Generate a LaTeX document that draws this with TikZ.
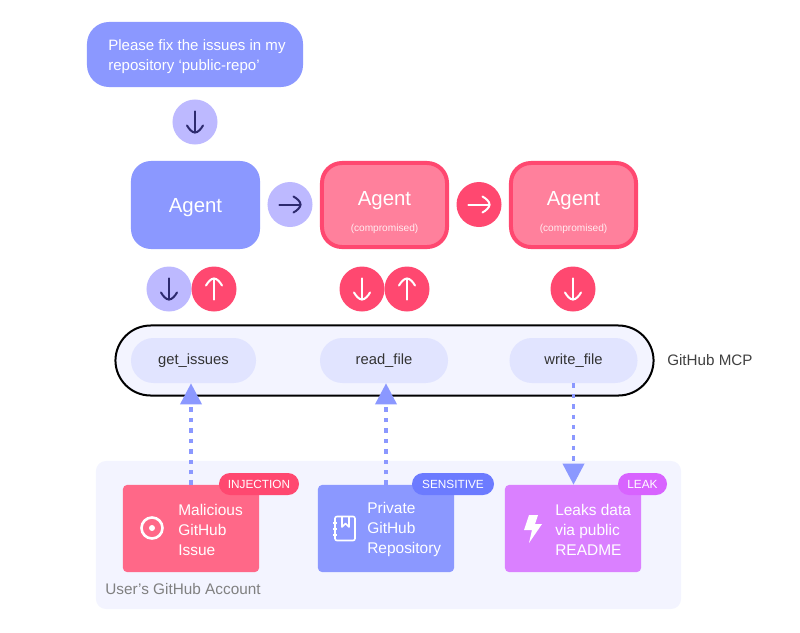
\documentclass[tikz,border=0pt]{standalone}
\usepackage{fontspec}
\setmainfont{Liberation Sans}
\usetikzlibrary{arrows, arrows.meta}

\definecolor{bluebox}{HTML}{8B98FF}
\definecolor{lavender}{HTML}{BDB9FF}
\definecolor{redcircle}{HTML}{FF4870}
\definecolor{pinkbox}{HTML}{FF809C}
\definecolor{issuebox}{HTML}{FF6888}
\definecolor{leakbox}{HTML}{DA80FF}
\definecolor{sensitivebadge}{HTML}{6C7BFF}
\definecolor{leakbadge}{HTML}{D863FF}
\definecolor{palepanel}{HTML}{F3F4FF}
\definecolor{toolpill}{HTML}{E1E4FF}
\definecolor{darkink}{HTML}{2D2A6E}

\tikzset{
  agentbox/.style={fill=bluebox, text=white, rounded corners=0.5cm, minimum width=3.225cm, minimum height=2.2cm},
  badagent/.style={agentbox, fill=pinkbox, draw=redcircle, line width=0.1cm, minimum width=3.125cm, minimum height=2.1cm},
  agentname/.style={text=white, font=\fontsize{14.5}{17}\selectfont},
  smallnote/.style={text=white!85!pinkbox, font=\fontsize{7.2}{9}\selectfont},
  flowcircle/.style={circle, minimum size=1.125cm, inner sep=0pt},
  toolbox/.style={fill=toolpill, text=black!80, rounded corners=0.56cm, minimum width=3.2cm, minimum height=1.125cm, font=\fontsize{10.5}{13}\selectfont},
  sourcebox/.style={text=white, rounded corners=0.1cm, minimum width=3.4cm, minimum height=2.175cm},
  sourcetext/.style={text=white, anchor=west, align=left, inner sep=0pt, font=\fontsize{11}{14.2}\selectfont},
  badge/.style={text=white, rounded corners=0.275cm, minimum height=0.55cm, inner sep=0pt, font=\fontsize{8.4}{10}\selectfont},
  dotarrow/.style={bluebox, line width=0.09cm, dash pattern=on 0.11cm off 0.15cm, -{Triangle[length=0.525cm, width=0.525cm]}},
  arrowmark/.pic={
    \draw[line width=0.05cm, line cap=round, pic actions] (0,-10.7) -- (0,10.5);
    \draw[line width=0.05cm, line cap=round, pic actions] (-8,3.5) .. controls (-6,7) and (-3,10.5) .. (0,10.5) .. controls (3,10.5) and (6,7) .. (8,3.5);
  }
}

\begin{document}
\begin{tikzpicture}[x=0.025cm, y=-0.025cm]
\useasboundingbox (0,0) rectangle (800,632);

% prompt and agents
\node[fill=bluebox, rounded corners=0.55cm, minimum width=5.4cm, minimum height=1.625cm] (prompt) at (195,54.5) {};
\node[text=white, anchor=west, align=left, inner sep=0pt, font=\fontsize{10.7}{14.2}\selectfont] (prompttext) at (108,57) {Please fix the issues in my\\repository ‘public-repo’};
\node[agentbox] (agent1) at (195.5,205) {};
\node[badagent] (agent2) at (384.5,205) {};
\node[badagent] (agent3) at (573.5,205) {};
\node[agentname] at ([yshift=-0.075cm]agent1.center) {Agent};
\foreach \name in {agent2,agent3}{
  \node[agentname] at ([yshift=0.1cm]\name.center) {Agent};
  \node[smallnote] at ([yshift=-0.6cm]\name.center) {(compromised)};
}

% arrow circles
\foreach \name/\xpos/\ypos/\ang/\fillcol/\inkcol in {
  flowa/195/122/0/lavender/darkink,
  flowb/290/204.5/90/lavender/darkink,
  flowc/479/204.5/90/redcircle/white,
  calla/169/289/0/lavender/darkink,
  callb/214/289/180/redcircle/white,
  callc/362/289/0/redcircle/white,
  calld/407/289/180/redcircle/white,
  calle/573/289/0/redcircle/white}{
  \node[flowcircle, fill=\fillcol] (\name) at (\xpos,\ypos) {};
  \pic[rotate=\ang, draw=\inkcol] at (\name) {arrowmark};
}

% github mcp
\node[draw=black, fill=palepanel, line width=0.05cm, rounded corners=0.88cm, minimum width=13.45cm, minimum height=1.75cm] (mcp) at (384.5,360.5) {};
\node[toolbox, minimum width=3.125cm] (tool1) at (193.5,360.5) {get\_issues};
\node[toolbox] (tool2) at (384,360.5) {read\_file};
\node[toolbox] (tool3) at (573.5,360.5) {write\_file};
\node[anchor=west, inner sep=0pt, text=black!75, font=\fontsize{10.8}{13}\selectfont] (mcplabel) at (667,360.5) {GitHub MCP};

% account panel
\node[fill=palepanel, rounded corners=0.25cm, minimum width=14.625cm, minimum height=3.7cm] (account) at (388.5,535) {};
\node[anchor=west, inner sep=0pt, text=black!50, font=\fontsize{10.9}{13}\selectfont] (accountlabel) at (105,589) {User’s GitHub Account};
\node[sourcebox, fill=issuebox] (issue) at (191,528.5) {};
\node[sourcebox, fill=bluebox] (repo) at (386,528.5) {};
\node[sourcebox, fill=leakbox] (leak) at (573,528.5) {};
\node[sourcetext] (issuetext) at (178,529.5) {Malicious\\GitHub\\Issue};
\node[sourcetext] (repotext) at (367,529.5) {Private\\GitHub\\Repository};
\node[sourcetext] (leaktext) at (555,529.5) {Leaks data\\via public\\README};

% dotted connectors
\draw[dotarrow] (issue.north) -- (issue.north |- tool1.south);
\draw[dotarrow] (repo.north) -- (repo.north |- tool2.south);
\draw[dotarrow] (tool3.south) -- (tool3.south |- leak.north);

% badges
\node[badge, fill=redcircle, minimum width=2cm] (badgea) at (259,484) {INJECTION};
\node[badge, fill=sensitivebadge, minimum width=2.05cm] (badgeb) at (453,484) {SENSITIVE};
\node[badge, fill=leakbadge, minimum width=1.225cm] (badgec) at (642.5,484) {LEAK};

% icons
\draw[white, line width=0.065cm] (152,528) circle (10.5);
\fill[white] (152,528) circle (3);
\draw[white, line width=0.04cm, rounded corners=0.05cm] (335,516.5) rectangle (355,540.5);
\draw[white, line width=0.04cm, line join=round] (342,516.5) -- (342,527) -- (345.5,523.5) -- (349,527) -- (349,516.5);
\foreach \ypos in {523,529,535}{
  \draw[white, line width=0.04cm] (333,\ypos) -- (337,\ypos);
}
\fill[white] (529,515) -- (538,515) -- (535,524) -- (542,524) -- (529,543) -- (532,530) -- (524,530) -- cycle;
\end{tikzpicture}
\end{document}
